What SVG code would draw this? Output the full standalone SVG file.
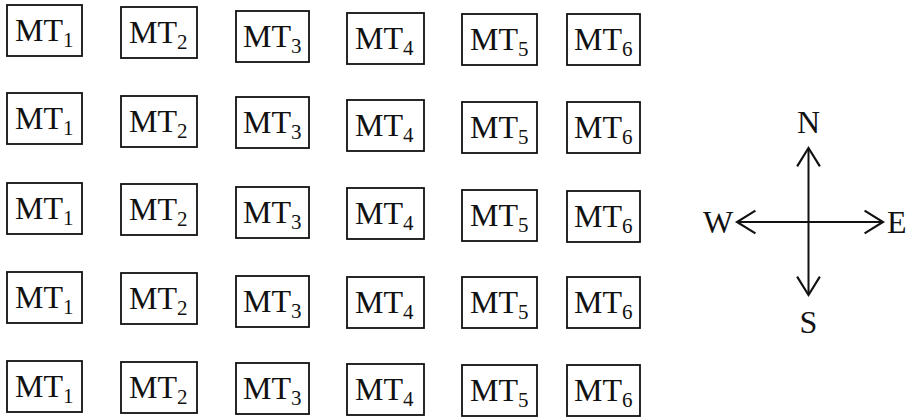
<svg xmlns="http://www.w3.org/2000/svg" width="915" height="419" viewBox="0 0 915 419">
<style>
.box{fill:#fff;stroke:#111;stroke-width:1.8}
.lbl{font-family:"Liberation Serif","Times New Roman",serif;font-size:32px;fill:#111}
.sub{font-size:21px}
.dir{font-family:"Liberation Serif","Times New Roman",serif;font-size:32px;fill:#111}
.arr{stroke:#111;stroke-width:2;fill:none}
</style>
<defs>
<marker id="head" markerUnits="userSpaceOnUse" markerWidth="24" markerHeight="26" viewBox="-19 -12 22 24" refX="0" refY="0" orient="auto">
<path d="M-17,-10.5 L0,0 L-17,10.5" fill="none" stroke="#111" stroke-width="2"/>
</marker>
</defs>
<rect width="915" height="419" fill="#fff"/>

<g id="r1c1"><rect class="box" x="7" y="5" width="75" height="51"/><text class="lbl" x="15" y="41">MT<tspan class="sub" dy="6">1</tspan></text></g>
<g id="r1c2"><rect class="box" x="121" y="7" width="76" height="51"/><text class="lbl" x="129" y="43">MT<tspan class="sub" dy="6">2</tspan></text></g>
<g id="r1c3"><rect class="box" x="236" y="11" width="73" height="51"/><text class="lbl" x="243" y="47">MT<tspan class="sub" dy="6">3</tspan></text></g>
<g id="r1c4"><rect class="box" x="347" y="13" width="77" height="51"/><text class="lbl" x="355" y="49">MT<tspan class="sub" dy="6">4</tspan></text></g>
<g id="r1c5"><rect class="box" x="462" y="14" width="75" height="51"/><text class="lbl" x="470" y="50">MT<tspan class="sub" dy="6">5</tspan></text></g>
<g id="r1c6"><rect class="box" x="567" y="14" width="73" height="51"/><text class="lbl" x="574" y="50">MT<tspan class="sub" dy="6">6</tspan></text></g>

<g id="r2c1"><rect class="box" x="7" y="93" width="75" height="51"/><text class="lbl" x="15" y="129">MT<tspan class="sub" dy="6">1</tspan></text></g>
<g id="r2c2"><rect class="box" x="121" y="96" width="76" height="51"/><text class="lbl" x="129" y="132">MT<tspan class="sub" dy="6">2</tspan></text></g>
<g id="r2c3"><rect class="box" x="236" y="97" width="73" height="51"/><text class="lbl" x="243" y="133">MT<tspan class="sub" dy="6">3</tspan></text></g>
<g id="r2c4"><rect class="box" x="347" y="100" width="77" height="51"/><text class="lbl" x="355" y="136">MT<tspan class="sub" dy="6">4</tspan></text></g>
<g id="r2c5"><rect class="box" x="462" y="102" width="75" height="51"/><text class="lbl" x="470" y="138">MT<tspan class="sub" dy="6">5</tspan></text></g>
<g id="r2c6"><rect class="box" x="567" y="102" width="73" height="51"/><text class="lbl" x="574" y="138">MT<tspan class="sub" dy="6">6</tspan></text></g>

<g id="r3c1"><rect class="box" x="7" y="183" width="75" height="51"/><text class="lbl" x="15" y="219">MT<tspan class="sub" dy="6">1</tspan></text></g>
<g id="r3c2"><rect class="box" x="121" y="184" width="76" height="51"/><text class="lbl" x="129" y="220">MT<tspan class="sub" dy="6">2</tspan></text></g>
<g id="r3c3"><rect class="box" x="236" y="187" width="73" height="51"/><text class="lbl" x="243" y="223">MT<tspan class="sub" dy="6">3</tspan></text></g>
<g id="r3c4"><rect class="box" x="347" y="188" width="77" height="51"/><text class="lbl" x="355" y="224">MT<tspan class="sub" dy="6">4</tspan></text></g>
<g id="r3c5"><rect class="box" x="462" y="190" width="75" height="51"/><text class="lbl" x="470" y="226">MT<tspan class="sub" dy="6">5</tspan></text></g>
<g id="r3c6"><rect class="box" x="567" y="191" width="73" height="51"/><text class="lbl" x="574" y="227">MT<tspan class="sub" dy="6">6</tspan></text></g>

<g id="r4c1"><rect class="box" x="7" y="272" width="75" height="51"/><text class="lbl" x="15" y="308">MT<tspan class="sub" dy="6">1</tspan></text></g>
<g id="r4c2"><rect class="box" x="121" y="273" width="76" height="51"/><text class="lbl" x="129" y="309">MT<tspan class="sub" dy="6">2</tspan></text></g>
<g id="r4c3"><rect class="box" x="236" y="276" width="73" height="51"/><text class="lbl" x="243" y="312">MT<tspan class="sub" dy="6">3</tspan></text></g>
<g id="r4c4"><rect class="box" x="347" y="277" width="77" height="51"/><text class="lbl" x="355" y="313">MT<tspan class="sub" dy="6">4</tspan></text></g>
<g id="r4c5"><rect class="box" x="462" y="277" width="75" height="51"/><text class="lbl" x="470" y="313">MT<tspan class="sub" dy="6">5</tspan></text></g>
<g id="r4c6"><rect class="box" x="567" y="277" width="73" height="51"/><text class="lbl" x="574" y="313">MT<tspan class="sub" dy="6">6</tspan></text></g>

<g id="r5c1"><rect class="box" x="7" y="361" width="75" height="51"/><text class="lbl" x="15" y="397">MT<tspan class="sub" dy="6">1</tspan></text></g>
<g id="r5c2"><rect class="box" x="121" y="362" width="76" height="51"/><text class="lbl" x="129" y="398">MT<tspan class="sub" dy="6">2</tspan></text></g>
<g id="r5c3"><rect class="box" x="236" y="363" width="73" height="51"/><text class="lbl" x="243" y="399">MT<tspan class="sub" dy="6">3</tspan></text></g>
<g id="r5c4"><rect class="box" x="347" y="364" width="77" height="51"/><text class="lbl" x="355" y="400">MT<tspan class="sub" dy="6">4</tspan></text></g>
<g id="r5c5"><rect class="box" x="462" y="365" width="75" height="51"/><text class="lbl" x="470" y="401">MT<tspan class="sub" dy="6">5</tspan></text></g>
<g id="r5c6"><rect class="box" x="567" y="365" width="73" height="51"/><text class="lbl" x="574" y="401">MT<tspan class="sub" dy="6">6</tspan></text></g>

<g id="compass-labels">
<text class="dir" x="808.5" y="133" text-anchor="middle">N</text>
<text class="dir" x="808.5" y="333" text-anchor="middle">S</text>
<text class="dir" x="703" y="233">W</text>
<text class="dir" x="887" y="233">E</text>
</g>
<g id="connectors">
<line class="arr" x1="808.5" y1="222" x2="808.5" y2="148" marker-end="url(#head)"/>
<line class="arr" x1="808.5" y1="222" x2="808.5" y2="295" marker-end="url(#head)"/>
<line class="arr" x1="808.5" y1="222" x2="737" y2="222" marker-end="url(#head)"/>
<line class="arr" x1="808.5" y1="222" x2="883" y2="222" marker-end="url(#head)"/>
</g>
</svg>
